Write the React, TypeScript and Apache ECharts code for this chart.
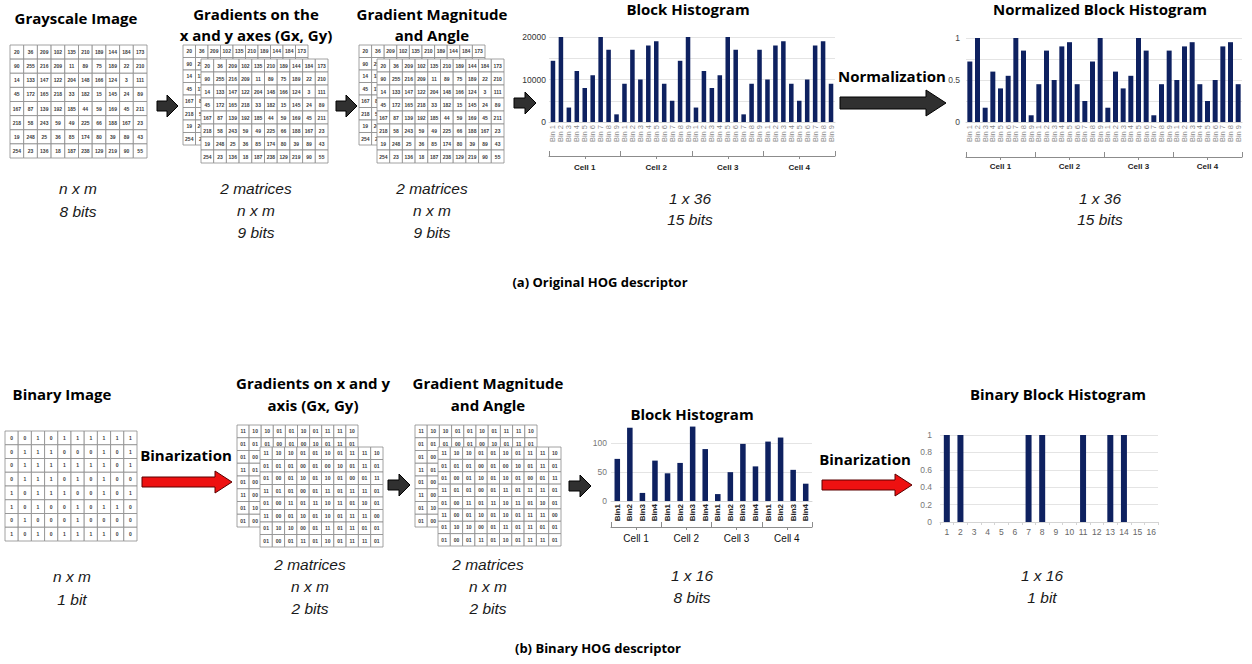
import React, { useEffect, useRef } from 'react';
import * as echarts from 'echarts';

// ---------------- data ----------------
const grayscaleImage = [
  [20, 36, 209, 102, 135, 210, 189, 144, 184, 173],
  [90, 255, 216, 209, 11, 89, 75, 189, 22, 210],
  [14, 133, 147, 122, 204, 148, 166, 124, 3, 111],
  [45, 172, 165, 218, 33, 182, 15, 145, 24, 89],
  [167, 87, 139, 192, 185, 44, 59, 169, 45, 211],
  [218, 58, 243, 59, 49, 225, 66, 188, 167, 23],
  [19, 248, 25, 36, 85, 174, 80, 39, 89, 43],
  [254, 23, 136, 18, 187, 238, 129, 219, 90, 55],
];
const gradientMatrix = grayscaleImage;
const magnitudeMatrix = grayscaleImage;

const binaryImage = [
  [0, 0, 1, 0, 1, 1, 1, 1, 1, 1],
  [0, 1, 1, 1, 0, 0, 0, 1, 0, 1],
  [0, 1, 1, 1, 1, 1, 1, 1, 0, 1],
  [0, 1, 1, 1, 0, 1, 0, 1, 0, 0],
  [1, 0, 1, 1, 1, 0, 0, 1, 0, 1],
  [1, 0, 1, 0, 0, 1, 0, 1, 1, 0],
  [0, 1, 0, 0, 0, 1, 0, 0, 0, 0],
  [1, 0, 1, 0, 1, 1, 1, 1, 0, 0],
];
const binaryGradient = [
  ['11', '10', '10', '01', '01', '10', '01', '11', '11', '10'],
  ['01', '01', '01', '00', '01', '00', '10', '01', '11', '01'],
  ['01', '00', '01', '10', '01', '10', '01', '00', '01', '11'],
  ['11', '01', '01', '00', '01', '11', '01', '11', '11', '01'],
  ['01', '00', '11', '01', '11', '10', '11', '01', '10', '01'],
  ['11', '00', '01', '10', '01', '10', '01', '11', '11', '00'],
  ['01', '10', '10', '00', '01', '11', '01', '11', '01', '01'],
  ['01', '00', '01', '11', '01', '10', '01', '11', '11', '01'],
];
const binaryMagnitude = binaryGradient;

const cellNames = ['Cell 1', 'Cell 2', 'Cell 3', 'Cell 4'];
const hogBins = ['Bin 1', 'Bin 2', 'Bin 3', 'Bin 4', 'Bin 5', 'Bin 6', 'Bin 7', 'Bin 8', 'Bin 9'];
const blockHistogram = [
  14400, 20000, 3400, 12000, 8000, 11000, 20000, 17000, 1800,
  9000, 17000, 10000, 18000, 19000, 9000, 5000, 14400, 20000,
  3400, 12000, 8000, 11000, 20000, 17000, 1800, 9000, 17000,
  10000, 18000, 19000, 9000, 5000, 10000, 18000, 19000, 9000,
];
const normalizedHistogram = [
  0.72, 1, 0.17, 0.6, 0.4, 0.55, 1, 0.85, 0.08,
  0.45, 0.85, 0.5, 0.9, 0.95, 0.45, 0.25, 0.72, 1,
  0.17, 0.6, 0.4, 0.55, 1, 0.85, 0.08, 0.45, 0.85,
  0.5, 0.9, 0.95, 0.45, 0.25, 0.5, 0.9, 0.95, 0.45,
];
const binaryBins = ['Bin1', 'Bin2', 'Bin3', 'Bin4'];
const binaryBlockHistogram = [73, 127, 14, 70, 48, 66, 129, 90, 12, 50, 99, 60, 103, 110, 54, 30];
const binaryHistogram = [1, 1, 0, 0, 0, 0, 1, 1, 0, 0, 1, 0, 1, 1, 0, 0];
const binaryHistLabels = ['1', '2', '3', '4', '5', '6', '7', '8', '9', '10', '11', '12', '13', '14', '15', '16'];

// ---------------- styling ----------------
const BAR = '#0e2160';
const SANS = 'Liberation Sans';
const TITLE_FONT = 'Open Sans';

type Box = { left: number; top: number; width: number; height: number };

function buildOption() {
  const grids: any[] = [];
  const xAxes: any[] = [];
  const yAxes: any[] = [];
  const series: any[] = [];

  const addGrid = (b: Box) => {
    grids.push({ left: b.left, top: b.top, width: b.width, height: b.height, containLabel: false, outerBoundsMode: 'none' });
    return grids.length - 1;
  };

  const addMatrix = (m: (number | string)[][], b: Box, z: number) => {
    const gi = addGrid(b);
    const xi = xAxes.length;
    xAxes.push({ type: 'category', gridIndex: gi, data: m[0].map((_, i) => String(i)), show: false });
    const yi = yAxes.length;
    yAxes.push({ type: 'category', gridIndex: gi, data: m.map((_, i) => String(i)), inverse: true, show: false });
    const cells: number[][] = [];
    m.forEach((row, r) => row.forEach((_, c) => cells.push([c, r])));
    series.push({
      type: 'custom',
      xAxisIndex: xi,
      yAxisIndex: yi,
      z,
      silent: true,
      encode: { x: 0, y: 1 },
      data: cells,
      renderItem: (_p: any, api: any) => {
        const col = api.value(0) as number;
        const row = api.value(1) as number;
        const pt = api.coord([col, row]);
        const sz = api.size([1, 1]);
        return {
          type: 'group',
          children: [
            {
              type: 'rect',
              shape: { x: pt[0] - sz[0] / 2, y: pt[1] - sz[1] / 2, width: sz[0], height: sz[1] },
              style: { fill: '#ffffff', stroke: '#8a8a8a', lineWidth: 0.8 },
            },
            {
              type: 'text',
              style: {
                text: String(m[row][col]),
                x: pt[0],
                y: pt[1],
                align: 'center',
                verticalAlign: 'middle',
                textAlign: 'center',
                textVerticalAlign: 'middle',
                fontSize: 5,
                fontWeight: 'bold',
                fontFamily: SANS,
                fill: '#3c3c3c',
              },
            },
          ],
        };
      },
    });
  };

  const addHistogram = (cfg: {
    box: Box;
    categories: string[];
    values: number[];
    max: number;
    interval: number;
    yFormatter: (v: number) => string;
    yLabel: any;
    xLabel: any;
    barWidth: string;
    xTicks?: boolean;
    splitColors?: string[];
    brace?: { offset: number; label: any };
  }) => {
    const gi = addGrid(cfg.box);
    const xi = xAxes.length;
    xAxes.push({
      type: 'category',
      gridIndex: gi,
      data: cfg.categories,
      axisLine: { show: true, lineStyle: { color: '#d4d4d4', width: 1 } },
      axisTick: { show: !!cfg.xTicks, length: 3, lineStyle: { color: '#d4d4d4' } },
      axisLabel: { interval: 0, ...cfg.xLabel },
      splitLine: { show: false },
    });
    if (cfg.brace) {
      xAxes.push({
        type: 'category',
        gridIndex: gi,
        position: 'bottom',
        offset: cfg.brace.offset,
        data: cellNames,
        axisLine: { show: true, lineStyle: { color: '#8c8c8c', width: 1 } },
        axisTick: { show: true, inside: true, length: 5, lineStyle: { color: '#8c8c8c', width: 1 } },
        axisLabel: { interval: 0, ...cfg.brace.label },
        splitLine: { show: false },
      });
      xAxes.push({
        type: 'category',
        gridIndex: gi,
        position: 'bottom',
        offset: cfg.brace.offset,
        data: cellNames,
        axisLine: { show: false },
        axisTick: { show: true, alignWithLabel: true, length: 3, lineStyle: { color: '#8c8c8c', width: 1 } },
        axisLabel: { show: false },
        splitLine: { show: false },
      });
    }
    const yi = yAxes.length;
    yAxes.push({
      type: 'value',
      gridIndex: gi,
      min: 0,
      max: cfg.max,
      interval: cfg.interval,
      axisLine: { show: false },
      axisTick: { show: false },
      axisLabel: { formatter: cfg.yFormatter, ...cfg.yLabel },
      splitLine: { show: true, lineStyle: { color: cfg.splitColors || '#e4e4e4', width: 1 } },
    });
    series.push({
      type: 'bar',
      xAxisIndex: xi,
      yAxisIndex: yi,
      data: cfg.values,
      barWidth: cfg.barWidth,
      itemStyle: { color: BAR },
      silent: true,
    });
  };

  // ---- matrices (a) ----
  addMatrix(grayscaleImage, { left: 10, top: 45, width: 137, height: 113 }, 2);
  addMatrix(gradientMatrix, { left: 183, top: 45, width: 125, height: 100 }, 2);
  addMatrix(gradientMatrix, { left: 201, top: 59, width: 127, height: 104 }, 3);
  addMatrix(magnitudeMatrix, { left: 359, top: 45, width: 126, height: 100 }, 2);
  addMatrix(magnitudeMatrix, { left: 377, top: 59, width: 127, height: 104 }, 3);
  // ---- matrices (b) ----
  addMatrix(binaryImage, { left: 5, top: 431, width: 132, height: 110 }, 2);
  addMatrix(binaryGradient, { left: 237, top: 425, width: 121, height: 102 }, 2);
  addMatrix(binaryGradient, { left: 260, top: 447, width: 123, height: 100 }, 3);
  addMatrix(binaryMagnitude, { left: 415, top: 425, width: 122, height: 102 }, 2);
  addMatrix(binaryMagnitude, { left: 438, top: 447, width: 123, height: 99 }, 3);

  const topCats: string[] = [];
  cellNames.forEach(() => hogBins.forEach((b) => topCats.push(b)));
  const botCats: string[] = [];
  cellNames.forEach(() => binaryBins.forEach((b) => botCats.push(b)));

  const smallGray = { fontFamily: SANS, fontSize: 7.5, color: '#8a8a8a' };

  // ---- block histogram (a) ----
  addHistogram({
    box: { left: 549, top: 37, width: 286, height: 85 },
    categories: topCats,
    values: blockHistogram,
    max: 20000,
    interval: 5000,
    yFormatter: (v) => (v % 10000 === 0 ? String(v) : ''),
    yLabel: { fontFamily: SANS, fontSize: 8.5, color: '#333', margin: 3 },
    xLabel: { ...smallGray, rotate: 90, margin: 3 },
    barWidth: '57%',
    brace: { offset: 34, label: { fontFamily: SANS, fontSize: 8, fontWeight: 'bold', color: '#222', margin: 7 } },
  });
  // ---- normalized block histogram (a) ----
  addHistogram({
    box: { left: 966, top: 38, width: 276, height: 84 },
    categories: topCats,
    values: normalizedHistogram,
    max: 1,
    interval: 0.25,
    yFormatter: (v) => (Math.abs(v * 2 - Math.round(v * 2)) < 1e-9 ? String(v) : ''),
    yLabel: { fontFamily: SANS, fontSize: 8.5, color: '#444', margin: 6 },
    xLabel: { ...smallGray, rotate: 90, margin: 3 },
    barWidth: '65%',
    brace: { offset: 35, label: { fontFamily: SANS, fontSize: 8, fontWeight: 'bold', color: '#222', margin: 5 } },
  });
  // ---- block histogram (b) ----
  addHistogram({
    box: { left: 611, top: 426, width: 201, height: 75 },
    categories: botCats,
    values: binaryBlockHistogram,
    max: 130,
    interval: 50,
    yFormatter: (v) => (v % 50 === 0 ? String(v) : ''),
    yLabel: { fontFamily: SANS, fontSize: 8.5, color: '#777', margin: 4 },
    xLabel: { fontFamily: SANS, fontSize: 8, fontWeight: 'bold', color: '#222', rotate: 90, margin: 3 },
    barWidth: '44%',
    splitColors: ['#e4e4e4', '#e4e4e4', '#e4e4e4', 'rgba(0,0,0,0)'],
    brace: { offset: 26, label: { fontFamily: SANS, fontSize: 10, color: '#111', margin: 6 } },
  });
  // ---- binary block histogram (b) ----
  addHistogram({
    box: { left: 940, top: 435, width: 218, height: 87 },
    categories: binaryHistLabels,
    values: binaryHistogram,
    max: 1,
    interval: 0.2,
    yFormatter: (v) => String(Math.round(v * 10) / 10),
    yLabel: { fontFamily: SANS, fontSize: 8.5, color: '#777', margin: 8 },
    xLabel: { fontFamily: SANS, fontSize: 8.5, color: '#666', margin: 5 },
    barWidth: '44%',
    xTicks: true,
  });

  // ---------------- graphics ----------------
  const graphic: any[] = [];
  const txt = (text: string, x: number, y: number, kind: 'title' | 'italic' | 'caption') => {
    const base: any = {
      text,
      x,
      y,
      align: 'center',
      verticalAlign: 'middle',
      textAlign: 'center',
      textVerticalAlign: 'middle',
      fill: '#000',
    };
    if (kind === 'title') Object.assign(base, { fontFamily: TITLE_FONT, fontWeight: 'bold', fontSize: 15 });
    if (kind === 'caption') Object.assign(base, { fontFamily: TITLE_FONT, fontWeight: 'bold', fontSize: 13 });
    if (kind === 'italic') Object.assign(base, { fontFamily: SANS, fontStyle: 'italic', fontSize: 15.5, fill: '#1a1a1a' });
    graphic.push({ type: 'text', silent: true, style: base });
  };
  const arrow = (x0: number, x1: number, cy: number, shaftH: number, headH: number, headL: number, fill: string, stroke: string) => {
    const hx = x1 - headL;
    graphic.push({
      type: 'polygon',
      silent: true,
      shape: {
        points: [
          [x0, cy - shaftH / 2],
          [hx, cy - shaftH / 2],
          [hx, cy - headH / 2],
          [x1, cy],
          [hx, cy + headH / 2],
          [hx, cy + shaftH / 2],
          [x0, cy + shaftH / 2],
        ],
      },
      style: { fill, stroke, lineWidth: 1 },
    });
  };

  // (a)
  txt('Grayscale Image', 76, 18, 'title');
  txt('Gradients on the', 256, 14, 'title');
  txt('x and y axes (Gx, Gy)', 256, 35, 'title');
  txt('Gradient Magnitude', 432, 14, 'title');
  txt('and Angle', 432, 35, 'title');
  txt('Block Histogram', 688, 9, 'title');
  txt('Normalized Block Histogram', 1100, 9, 'title');
  txt('Normalization', 892, 76, 'title');
  txt('n x m', 78, 188, 'italic');
  txt('8 bits', 78, 211, 'italic');
  txt('2 matrices', 256, 188, 'italic');
  txt('n x m', 256, 210, 'italic');
  txt('9 bits', 256, 232, 'italic');
  txt('2 matrices', 432, 188, 'italic');
  txt('n x m', 432, 210, 'italic');
  txt('9 bits', 432, 232, 'italic');
  txt('1 x 36', 690, 198, 'italic');
  txt('15 bits', 690, 219, 'italic');
  txt('1 x 36', 1100, 198, 'italic');
  txt('15 bits', 1100, 219, 'italic');
  txt('(a) Original HOG descriptor', 600, 282, 'caption');

  // (b)
  txt('Binary Image', 62, 394, 'title');
  txt('Gradients on x and y', 313, 383, 'title');
  txt('axis (Gx, Gy)', 313, 405, 'title');
  txt('Gradient Magnitude', 488, 383, 'title');
  txt('and Angle', 488, 405, 'title');
  txt('Block Histogram', 692, 414, 'title');
  txt('Binary Block Histogram', 1058, 394, 'title');
  txt('Binarization', 186, 455, 'title');
  txt('Binarization', 865, 459, 'title');
  txt('n x m', 72, 576, 'italic');
  txt('1 bit', 72, 599, 'italic');
  txt('2 matrices', 310, 564, 'italic');
  txt('n x m', 310, 586, 'italic');
  txt('2 bits', 310, 608, 'italic');
  txt('2 matrices', 488, 564, 'italic');
  txt('n x m', 488, 586, 'italic');
  txt('2 bits', 488, 608, 'italic');
  txt('1 x 16', 692, 575, 'italic');
  txt('8 bits', 692, 597, 'italic');
  txt('1 x 16', 1042, 575, 'italic');
  txt('1 bit', 1042, 597, 'italic');
  txt('(b) Binary HOG descriptor', 598, 648, 'caption');

  // arrows
  const dark = '#303030';
  arrow(157, 178, 106, 10, 22, 11, dark, '#000');
  arrow(336, 357, 106, 10, 22, 11, dark, '#000');
  arrow(514, 536, 103, 10, 22, 11, dark, '#000');
  arrow(840, 946, 103, 12, 26, 20, dark, '#000');
  arrow(388, 410, 485, 10, 22, 11, dark, '#000');
  arrow(569, 591, 486, 10, 22, 11, dark, '#000');
  arrow(142, 232, 482, 10, 22, 17, '#ee1111', '#5a0000');
  arrow(822, 912, 485, 10, 22, 17, '#ee1111', '#5a0000');

  return {
    animation: false,
    backgroundColor: '#ffffff',
    grid: grids,
    xAxis: xAxes,
    yAxis: yAxes,
    series,
    graphic: { elements: graphic },
  };
}

export default function App() {
  const ref = useRef<HTMLDivElement>(null);
  useEffect(() => {
    if (!ref.current) return;
    const chart = echarts.init(ref.current, undefined, { renderer: 'svg' });
    chart.setOption(buildOption() as any);
    return () => chart.dispose();
  }, []);
  return (
    <div
      ref={ref}
      style={{ position: 'absolute', left: 0, top: 0, width: 1252, height: 664, background: '#ffffff' }}
    />
  );
}
